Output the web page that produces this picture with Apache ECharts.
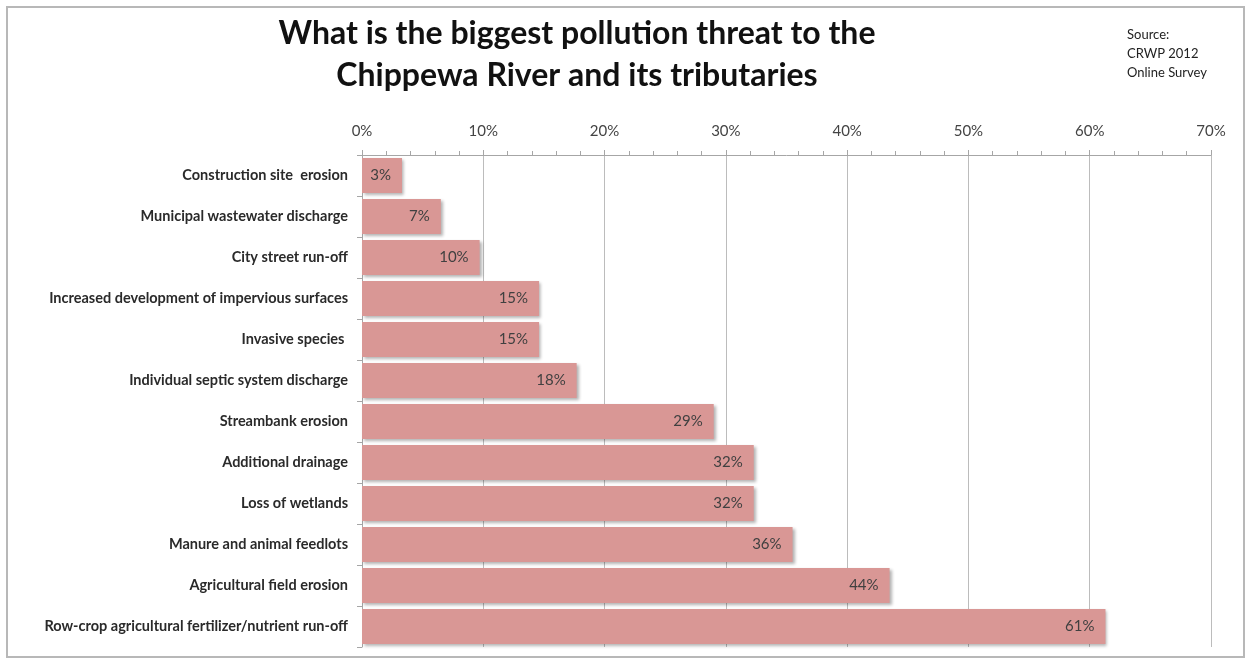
<!DOCTYPE html>
<html>
<head>
<meta charset="utf-8">
<script src="https://cdn.jsdelivr.net/npm/echarts@6/dist/echarts.min.js"></script>
<style>
  html, body { margin: 0; padding: 0; background: #fff; }
  #chart { width: 1248px; height: 661px; }
</style>
</head>
<body>
<div id="chart"></div>
<script>
// categories, top to bottom
var categories = [
  'Construction site  erosion',
  'Municipal wastewater discharge',
  'City street run-off',
  'Increased development of impervious surfaces',
  'Invasive species ',
  'Individual septic system discharge',
  'Streambank erosion',
  'Additional drainage',
  'Loss of wetlands',
  'Manure and animal feedlots',
  'Agricultural field erosion',
  'Row-crop agricultural fertilizer/nutrient run-off'
];
// percent of respondents
var shares = [3.3, 6.5, 9.7, 14.6, 14.6, 17.7, 29.0, 32.3, 32.3, 35.5, 43.5, 61.3];
var axisMax = 70;
var axisStep = 10;

var myChart = echarts.init(document.getElementById('chart'));
var font = 'Lato, "Open Sans", sans-serif';

var option = {
  backgroundColor: '#fff',
  animation: false,
  graphic: [
    {
      type: 'rect',
      shape: { x: 7, y: 7, width: 1237, height: 650 },
      style: { fill: 'none', stroke: '#b8b8b8', lineWidth: 2 },
      z: -1
    },
    {
      type: 'text',
      left: 1127,
      top: 25,
      style: {
        text: 'Source:\nCRWP 2012\nOnline Survey',
        font: '13px ' + font,
        fill: '#222',
        lineHeight: 19
      }
    }
  ],
  title: {
    text: 'What is the biggest pollution threat to the\nChippewa River and its tributaries',
    left: 572,
    textAlign: 'center',
    top: 8,
    textStyle: {
      fontFamily: font,
      fontSize: 32,
      fontWeight: 'bold',
      color: '#111',
      lineHeight: 42
    }
  },
  grid: { left: 362, right: 37, top: 155, bottom: 14 },
  xAxis: {
    type: 'value',
    position: 'top',
    min: 0,
    max: axisMax,
    interval: axisStep,
    axisLine: { show: true, lineStyle: { color: '#a6a6a6' } },
    axisTick: { show: true, length: 5, lineStyle: { color: '#a6a6a6' } },
    minorTick: { show: true, splitNumber: 5, length: 4, lineStyle: { color: '#a6a6a6' } },
    splitLine: { show: true, lineStyle: { color: '#bcbcbc', width: 1 } },
    axisLabel: {
      formatter: '{value}%',
      fontFamily: font,
      fontSize: 15,
      color: '#444',
      margin: 16
    }
  },
  yAxis: {
    type: 'category',
    data: categories,
    inverse: true,
    axisLine: { show: true, lineStyle: { color: '#a6a6a6' } },
    axisTick: { show: true, length: 5, alignWithLabel: false, lineStyle: { color: '#a6a6a6' } },
    axisLabel: {
      fontFamily: font,
      fontSize: 14.5,
      fontWeight: 'bold',
      color: '#2a2a2a',
      margin: 14
    }
  },
  series: [
    {
      type: 'bar',
      data: shares,
      barCategoryGap: '15%',
      itemStyle: {
        color: '#d99795',
        shadowColor: 'rgba(0,0,0,0.3)',
        shadowBlur: 3,
        shadowOffsetX: 2,
        shadowOffsetY: 2
      },
      label: {
        show: true,
        position: 'insideRight',
        distance: 11,
        formatter: function (p) { return Math.round(p.value) + '%'; },
        fontFamily: font,
        fontSize: 15,
        color: '#404040'
      }
    }
  ]
};
myChart.setOption(option);
</script>
</body>
</html>
